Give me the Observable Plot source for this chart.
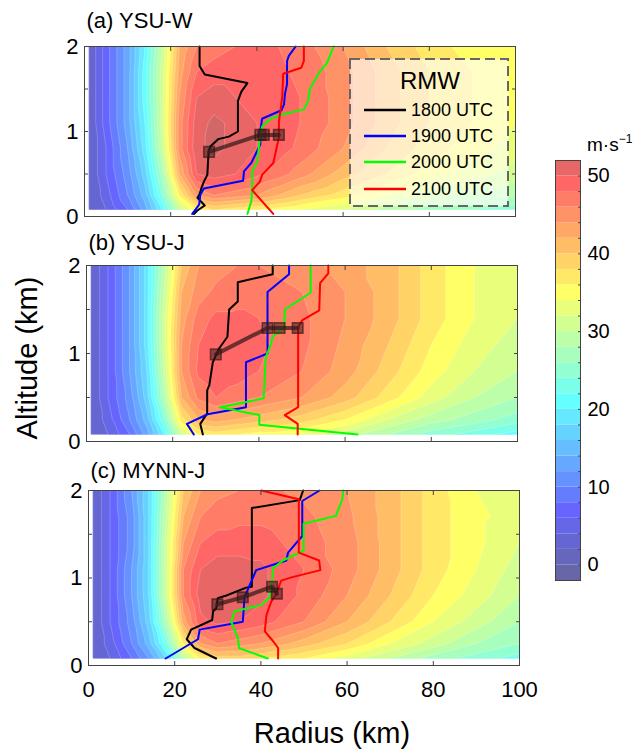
<!DOCTYPE html>
<html><head><meta charset="utf-8">
<script src="https://cdn.jsdelivr.net/npm/d3@7"></script>
<script src="https://cdn.jsdelivr.net/npm/@observablehq/plot@0.6"></script>
<style>
body{margin:0;background:#fff;}
#wrap{position:relative;width:641px;height:750px;overflow:hidden;font-family:"Liberation Sans",Arial,sans-serif;}
#wrap > svg, #wrap > figure{position:absolute;margin:0;}
</style></head><body><div id="wrap"></div>
<script>
// ---- grid of the wind field (radius km x altitude km), m/s ----
const radii = [1,5,10,14,18,22,26,30,35,40,45,50,60,70,80,90,100];
const altitudes = [0.08,0.25,0.5,0.8,1.1,1.4,1.7,2.0];

const windA = [
  [2,4,8,13,20,30,36,38,37,36,35,34,32,29,27,26,25],
  [2,5,10,15,24,36,44,46,45,44,42,40,37,34,31,29,28],
  [2,6,11,17,27,42,50,51,50,48.5,47,45,41,38,35,33,31],
  [2,6,12,19,30,45,51.5,52.5,51.5,50,49,47.5,44,40,37,35,33],
  [2,7,13,20,31,45,51,52.5,51.5,50,49.5,48,45,41,38,36,34],
  [2,7,13,21,31,44,50,51,50,49.5,49,48,45,41,38,36,34],
  [2,7,13,21,31,43,48,49,49,49,48.5,47.5,45,41,38,36,34],
  [2,7,13,20,30,42,46,47,48,48,48,47,44,40,37,35,34]
];
const windB = [
  [2,4,8,13,20,31,36,37,36,35,35,34,31,28,25,23,21],
  [2,5,10,15,24,37,42,43,42,41,40,39,36,32,29,27,25],
  [2,6,11,17,28,42,46.5,48,47,46,45,44,41,37,33,30,28],
  [2,6,12,18,30,44,48.5,49.5,49,48,47,46,43,39,35,32,30],
  [2,6,12,19,31,44,48,49.5,49,48.5,47.5,46.5,43.5,40,36,33,31],
  [2,6,12,19,31,43,47,48.5,48.5,48,47.5,46.5,44,41,37,34,32],
  [2,6,12,19,30,42,45,46.5,47,47,46.5,46,44,41,37,34,32],
  [2,6,12,19,29,40,44,45,46,46,45.5,45,43,41,37,34,32]
];
const windC = [
  [2,4,8,12,18,29,36,39,39,38,37,36,33,30,27,25,23],
  [2,5,10,15,23,36,44,46,45,44,42.5,41,38,34,31,28,26],
  [2,6,11,17,28,43,49.5,50.5,50,49,47.5,46,42,38,34,31,28],
  [2,6,12,18,31,46,51,52,51.5,50.5,49,47.5,44,40,36,33,30],
  [2,6,12,18,31,46,50,51,51,50.5,49,48,45,41,37,34,31],
  [2,6,11,18,31,44,48,49,49,49,48,47,45,41,37,34.5,32],
  [2,6,11,18,30,42,46,47,47.5,47.5,47,46.5,44.5,41,37,34.5,33],
  [2,6,12,18,29,40,44,45.5,46,46,46,45.5,44,41,37,34,33]
];

// ---- RMW profiles [radius km, altitude km] ----
const times = ["1800 UTC","1900 UTC","2000 UTC","2100 UTC"];
const timeColors = ["#000000","#0000ff","#00ff00","#ff0000"];

const a1800 = [[26.7,2.0],[26.7,1.77],[27.9,1.67],[37.8,1.57],[36.4,1.47],[35.6,1.36],[35.6,1.0],[33.5,0.94],[31.0,0.91],[29.3,0.83],[28.8,0.77],[28.5,0.49],[27.7,0.41],[27.1,0.33],[26.7,0.26],[26.2,0.22],[27.9,0.13],[26.2,0.07],[25.4,0.03]];
const a1900 = [[49.0,2.0],[47.4,1.89],[47.0,1.83],[47.0,1.56],[46.5,1.44],[46.3,1.32],[45.7,1.25],[41.2,1.15],[40.8,1.0],[40.8,0.85],[38.7,0.63],[37.0,0.53],[36.8,0.42],[27.7,0.33],[26.9,0.26],[26.6,0.14],[25.0,0.03]];
const a2000 = [[57.8,2.0],[56.3,1.81],[54.4,1.69],[52.3,1.5],[51.9,1.36],[50.9,1.26],[45.9,1.2],[43.2,1.15],[41.2,1.06],[40.7,0.93],[40.1,0.65],[38.9,0.53],[38.9,0.31],[38.7,0.18],[37.8,0.03]];
const a2100 = [[50.9,2.0],[50.9,1.83],[50.3,1.75],[46.1,1.68],[45.9,1.42],[45.5,1.26],[45.1,1.12],[45.1,0.93],[43.8,0.63],[41.2,0.49],[40.7,0.41],[38.9,0.31],[43.8,0.03]];
const sqA = [[28.9,0.76],[40.8,0.96],[41.6,0.96],[45.1,0.96]];

const b1800 = [[43.2,2.0],[43.2,1.9],[35.1,1.81],[35.1,1.59],[33.1,1.5],[32.7,1.19],[30.8,1.06],[29.3,0.9],[28.5,0.64],[28.0,0.58],[28.0,0.32],[26.4,0.2],[27.0,0.08]];
const b1900 = [[47.0,2.0],[47.0,1.9],[42.0,1.7],[42.0,1.0],[37.0,0.9],[37.0,0.39],[28.1,0.31],[23.3,0.2],[24.9,0.08]];
const b2000 = [[52.0,2.0],[52.0,1.69],[46.0,1.5],[45.9,1.3],[43.2,1.19],[42.8,1.11],[41.6,0.96],[41.1,0.49],[31.0,0.39],[40.1,0.3],[40.1,0.19],[62.9,0.08]];
const b2100 = [[56.1,2.0],[56.1,1.91],[54.2,1.8],[54.0,1.49],[50.1,1.38],[49.1,1.3],[49.1,0.39],[46.0,0.3],[49.0,0.2],[49.0,0.08]];
const sqB = [[30.0,0.99],[42.0,1.29],[44.8,1.29],[49.0,1.29]];

const c1800 = [[49.8,2.0],[49.0,1.89],[37.9,1.8],[37.9,0.9],[36.6,0.89],[32.0,0.8],[30.0,0.77],[29.6,0.65],[28.9,0.62],[28.7,0.52],[23.8,0.41],[22.8,0.3],[24.6,0.2],[29.6,0.08]];
const c1900 = [[53.6,2.0],[49.6,1.88],[49.6,1.48],[46.3,1.29],[45.9,1.2],[38.9,1.09],[36.2,0.78],[35.8,0.5],[25.8,0.41],[25.4,0.3],[17.9,0.08]];
const c2000 = [[59.1,2.0],[58.9,1.9],[57.4,1.71],[49.9,1.62],[49.9,1.31],[45.1,1.2],[42.8,1.11],[42.6,0.97],[42.0,0.78],[40.1,0.69],[33.9,0.62],[33.1,0.5],[34.7,0.31],[34.9,0.2],[41.6,0.08]];
const c2100 = [[40.1,2.0],[48.8,1.9],[48.8,1.29],[53.5,1.2],[53.8,1.09],[47.3,1.01],[44.7,0.97],[43.6,0.82],[42.4,0.73],[41.3,0.58],[40.9,0.39],[42.8,0.28],[44.0,0.2],[44.0,0.08]];
const sqC = [[29.9,0.70],[35.8,0.78],[42.6,0.90],[43.7,0.82]];

// ---- ticks / labels ----
const xTicks = [0,20,40,60,80,100];
const yTicks = [0,0.5,1,1.5,2];
const yLabels = [0,1,2];
const cbarTicks = [0,10,20,30,40,50];
const cbarLevels = d3.range(-2, 52, 2);
const thresholds = d3.range(0, 54, 2);

// pale jet colormap (jet blended over white)
function jetPale(t) {
  const c = v => Math.max(0, Math.min(1, v));
  const r = c(1.5 - Math.abs(4*t - 3)), g = c(1.5 - Math.abs(4*t - 2)), b = c(1.5 - Math.abs(4*t - 1));
  const a = 0.6, m = v => Math.round(255*(1 - a) + 255*a*v);
  return `rgb(${m(r)},${m(g)},${m(b)})`;
}
const colorOpts = {type: "linear", domain: [-1, 55], interpolate: jetPale};
const FONT = "Liberation Sans, Arial, sans-serif";
const wrap = document.getElementById("wrap");

function panel({wind, lines, squares, title, fLeft, fRight, svgTop, fTop, fBottom, svgH, xLabels, titleGap}) {
  const pts = [];
  altitudes.forEach((z, i) => radii.forEach((r, j) => pts.push({r, z, v: wind[i][j]})));
  const W = 530;
  const marks = [
    Plot.contour(pts, {x: "r", y: "z", fill: "v", interpolate: "barycentric", thresholds,
      x1: radii[0], x2: radii[radii.length-1], y1: altitudes[0], y2: altitudes[altitudes.length-1],
      pixelSize: 1, stroke: "white", strokeOpacity: 0.35, strokeWidth: 0.6}),
    ...lines.map((L, k) => Plot.line(L, {x: d => d[0], y: d => d[1], stroke: timeColors[k], strokeWidth: 2})),
    Plot.line(squares, {x: d => d[0], y: d => d[1], stroke: "#3b1c1c", strokeOpacity: 0.75, strokeWidth: 4}),
    Plot.dot(squares, {x: d => d[0], y: d => d[1], symbol: "square", r: 6, fill: "#3b1c1c", fillOpacity: 0.55, stroke: "#2a1010", strokeOpacity: 0.6, strokeWidth: 1.5}),
    Plot.frame({stroke: "#444"}),
    Plot.axisY({anchor: "left", ticks: yTicks, tickSize: 4, dx: 4, tickFormat: () => "", label: null, stroke: "#444"}),
    Plot.axisY({anchor: "right", ticks: yTicks, tickSize: 4, dx: -4, tickFormat: () => "", label: null, stroke: "#444"}),
    Plot.axisX({anchor: "bottom", ticks: xTicks, tickSize: 4, dy: -4, tickFormat: () => "", label: null, stroke: "#444"}),
    Plot.axisX({anchor: "top", ticks: xTicks, tickSize: 4, dy: 4, tickFormat: () => "", label: null, stroke: "#444"}),
    Plot.axisY({anchor: "left", ticks: yLabels, tickSize: 0, tickPadding: 6, tickFormat: d => String(d), label: null, fontSize: 22, fill: "#000"}),
    Plot.text([title], {text: d => d, frameAnchor: "top-left", textAnchor: "start", lineAnchor: "bottom", dx: 2, dy: -titleGap, fontSize: 22, fill: "#000"})
  ];
  if (xLabels) marks.push(Plot.axisX({anchor: "bottom", ticks: xTicks, tickSize: 0, tickPadding: 16, tickFormat: d => String(d), label: null, fontSize: 22, fill: "#000"}));
  const p = Plot.plot({
    width: W, height: svgH,
    marginLeft: fLeft, marginRight: W - fRight, marginTop: fTop - svgTop, marginBottom: svgTop + svgH - fBottom,
    x: {domain: [0, 100], label: null},
    y: {domain: [0, 2], label: null},
    color: colorOpts,
    style: {background: "transparent", fontFamily: FONT, fontSize: "22px", overflow: "visible", color: "#000"},
    marks
  });
  p.style.left = "0px";
  p.style.top = svgTop + "px";
  wrap.appendChild(p);
}

panel({wind: windA, lines: [a1800, a1900, a2000, a2100], squares: sqA, title: "(a) YSU-W",
  fLeft: 84, fRight: 515, svgTop: 0, fTop: 46, fBottom: 216, svgH: 240, xLabels: false, titleGap: 19});
panel({wind: windB, lines: [b1800, b1900, b2000, b2100], squares: sqB, title: "(b) YSU-J",
  fLeft: 86, fRight: 517, svgTop: 240, fTop: 265, fBottom: 441, svgH: 225, xLabels: false, titleGap: 16});
panel({wind: windC, lines: [c1800, c1900, c2000, c2100], squares: sqC, title: "(c) MYNN-J",
  fLeft: 88, fRight: 519, svgTop: 465, fTop: 490, fBottom: 665, svgH: 285, xLabels: true, titleGap: 13});

// ---- colorbar ----
{
  const svgLeft = 545, svgTop = 130, W = 96, H = 470;
  const fL = 555, fR = 580, fT = 160, fB = 580;
  const cb = Plot.plot({
    width: W, height: H,
    marginLeft: fL - svgLeft, marginRight: svgLeft + W - fR, marginTop: fT - svgTop, marginBottom: svgTop + H - fB,
    x: {domain: [0, 1], axis: null},
    y: {domain: [cbarLevels[0], cbarLevels[cbarLevels.length-1] + 2], label: null},
    color: colorOpts,
    style: {background: "transparent", fontFamily: FONT, fontSize: "20px", overflow: "visible", color: "#000"},
    marks: [
      Plot.rect(cbarLevels, {x1: 0, x2: 1, y1: d => d, y2: d => d + 2, fill: d => d}),
      Plot.frame({stroke: "#444"}),
      Plot.axisY({anchor: "right", ticks: d3.range(0, 52, 2), tickSize: 3, dx: -3, tickFormat: () => "", label: null, stroke: "#444"}),
      Plot.axisY({anchor: "right", ticks: cbarTicks, tickSize: 0, tickPadding: 7, tickFormat: d => String(d), label: null, fontSize: 20, fill: "#000"})
    ]
  });
  cb.style.left = svgLeft + "px";
  cb.style.top = svgTop + "px";
  wrap.appendChild(cb);
}

// ---- overlay: axis titles, legend, unit ----
{
  const svg = d3.create("svg").attr("width", 641).attr("height", 750)
    .style("left", "0px").style("top", "0px").style("pointer-events", "none")
    .style("font-family", FONT);
  svg.append("text").attr("transform", "translate(37,358) rotate(-90)")
    .attr("text-anchor", "middle").attr("font-size", 29).attr("fill", "#000").text("Altitude (km)");
  svg.append("text").attr("x", 332).attr("y", 743)
    .attr("text-anchor", "middle").attr("font-size", 29).attr("fill", "#000").text("Radius (km)");
  const u = svg.append("text").attr("x", 587).attr("y", 151).attr("font-size", 19).attr("fill", "#000");
  u.append("tspan").text("m·s");
  u.append("tspan").attr("font-size", 12).attr("dy", -8).text("−1");
  // legend
  const lg = svg.append("g");
  lg.append("rect").attr("x", 350).attr("y", 59).attr("width", 158).attr("height", 147)
    .attr("fill", "white").attr("fill-opacity", 0.62)
    .attr("stroke", "#666").attr("stroke-width", 2).attr("stroke-dasharray", "10,5");
  lg.append("text").attr("x", 430).attr("y", 89).attr("text-anchor", "middle")
    .attr("font-size", 24).attr("fill", "#000").text("RMW");
  const rowsY = [110, 136, 162, 189];
  times.forEach((t, k) => {
    lg.append("line").attr("x1", 364).attr("x2", 406).attr("y1", rowsY[k]).attr("y2", rowsY[k])
      .attr("stroke", timeColors[k]).attr("stroke-width", 2.5);
    lg.append("text").attr("x", 411).attr("y", rowsY[k]).attr("dy", "0.35em")
      .attr("font-size", 18).attr("fill", "#000").text(t);
  });
  wrap.appendChild(svg.node());
}
</script>
</body></html>
